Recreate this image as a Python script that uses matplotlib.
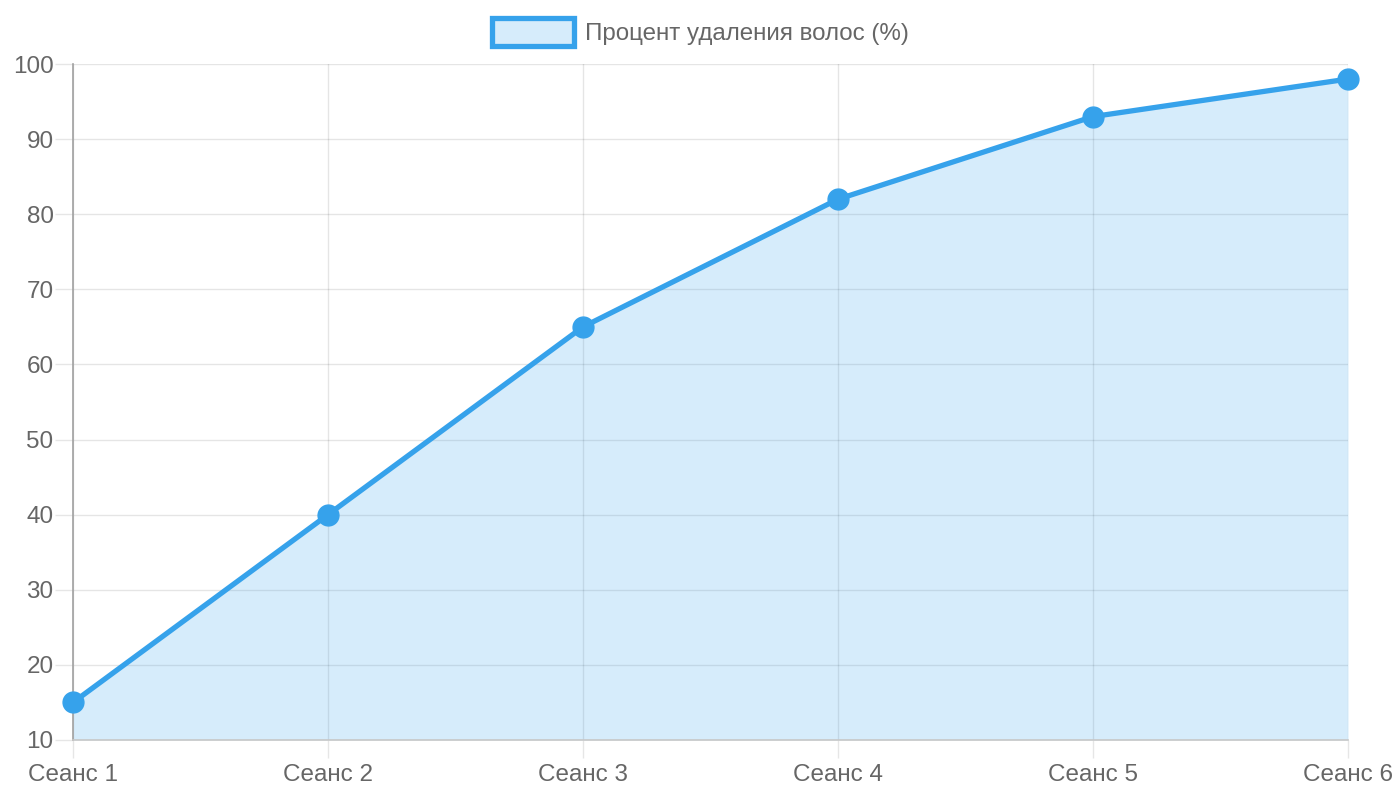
import matplotlib
matplotlib.use("Agg")
import matplotlib.pyplot as plt
from matplotlib.patches import Patch

plt.rcParams['font.family'] = ['Liberation Sans', 'DejaVu Sans']

sessions = ["Сеанс 1", "Сеанс 2", "Сеанс 3", "Сеанс 4", "Сеанс 5", "Сеанс 6"]
removal = [15, 40, 65, 82, 93, 98]
y_ticks = [10, 20, 30, 40, 50, 60, 70, 80, 90, 100]
series_label = "Процент удаления волос (%)"

line_color = "#36A2EB"
fill_color = (54/255, 162/255, 235/255, 0.2)
tick_color = "#e6e6e6"
text_color = "#666666"

fig = plt.figure(figsize=(14, 8), dpi=100)
ax = fig.add_axes([73/1400, 1 - 740/800, (1348 - 73)/1400, (740 - 64)/800])

x = list(range(len(sessions)))
ax.fill_between(x, removal, y_ticks[0], color=fill_color, linewidth=0, zorder=2)
ax.plot(x, removal, color=line_color, linewidth=3.8, marker='o', markersize=15,
        markerfacecolor=line_color, markeredgecolor=line_color, zorder=4, clip_on=False)

ax.set_xlim(0, len(sessions) - 1)
ax.set_ylim(y_ticks[0], y_ticks[-1])
ax.set_xticks(x)
ax.set_xticklabels(sessions)
ax.set_yticks(y_ticks)

ax.set_axisbelow(True)
ax.grid(True, color="black", alpha=0.1, linewidth=1.0)
for s in ["top", "right"]:
    ax.spines[s].set_visible(False)
ax.spines["left"].set_color("#a0a0a0")
ax.spines["bottom"].set_color("#c8c8c8")
ax.spines["left"].set_linewidth(1.2)
ax.spines["bottom"].set_linewidth(1.2)

ax.tick_params(axis='both', length=13, width=1.0, color=tick_color,
               labelsize=17.5, labelcolor=text_color)
ax.tick_params(axis='x', pad=4)
ax.tick_params(axis='y', pad=1)

handle = Patch(facecolor=fill_color, edgecolor=line_color, linewidth=3.8)
fig.legend([handle], [series_label], loc='center', bbox_to_anchor=(0.5, 1 - 32/800),
           frameon=False, fontsize=17.4, labelcolor=text_color,
           handlelength=3.4, handleheight=1.35, handletextpad=0.45)

fig.savefig("out.png", dpi=100, facecolor="white")
